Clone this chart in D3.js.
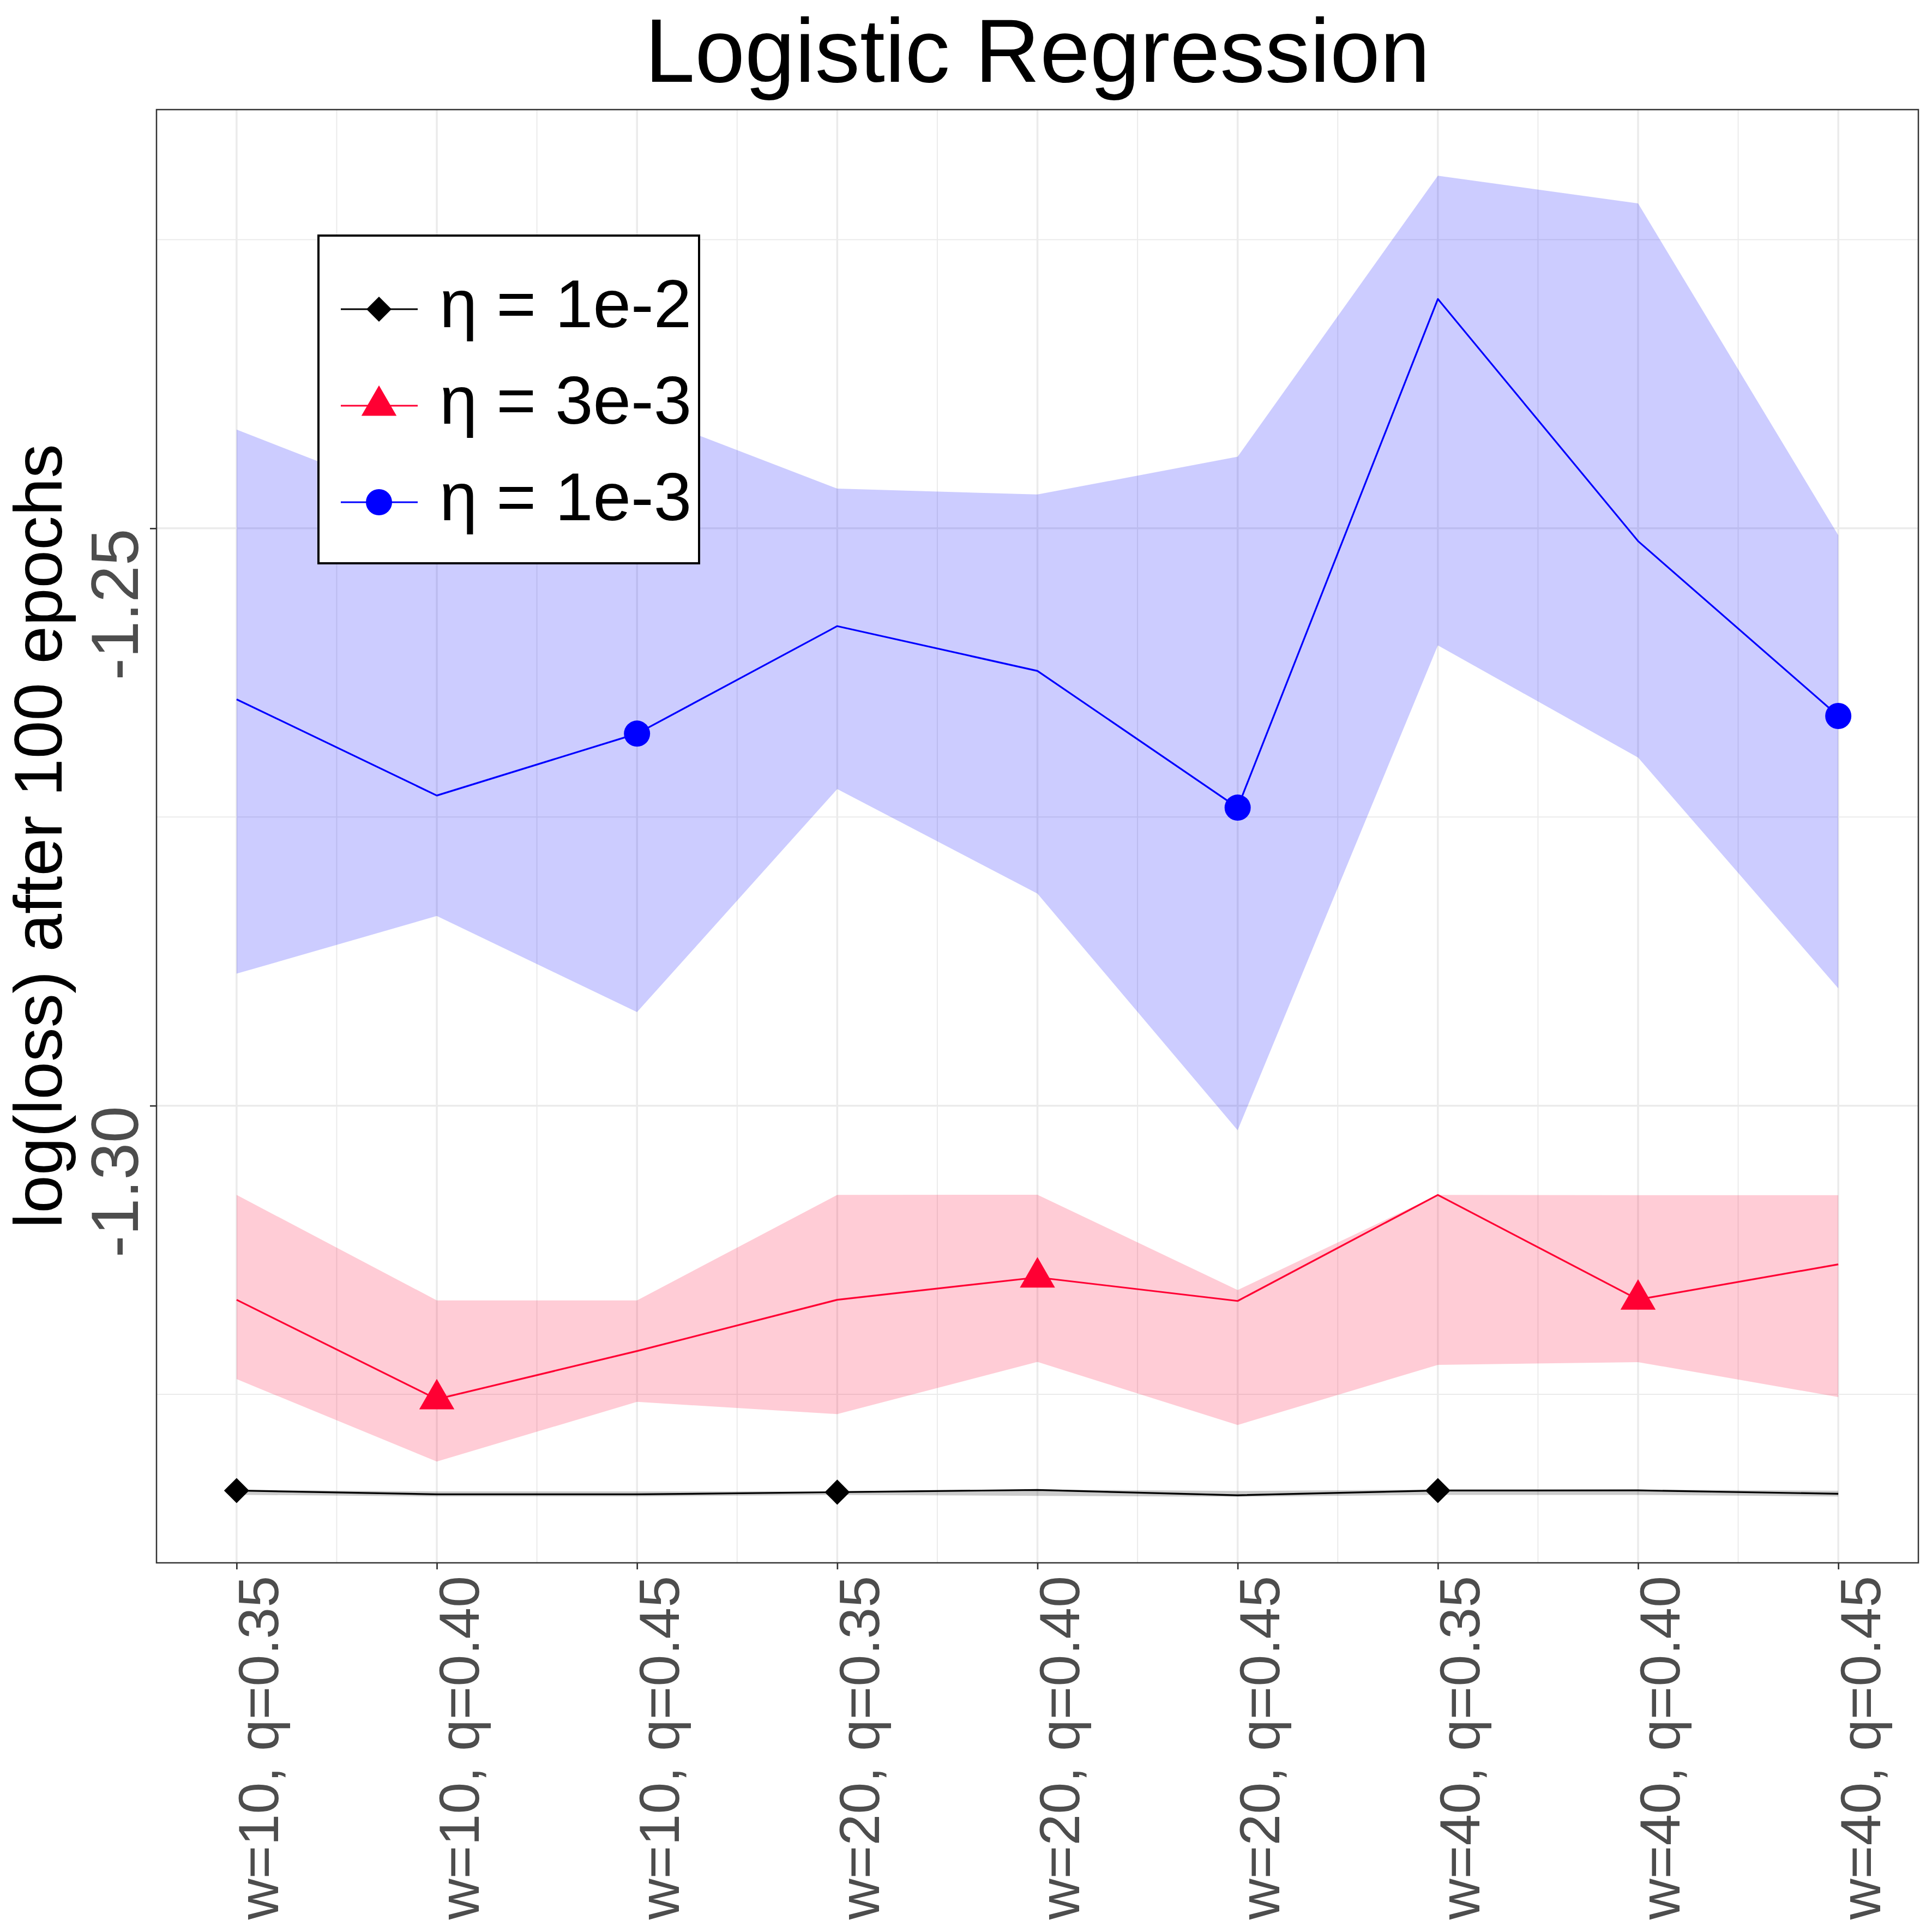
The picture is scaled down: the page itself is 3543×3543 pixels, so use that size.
<!DOCTYPE html>
<html>
<head>
<meta charset="utf-8">
<script src="https://cdn.jsdelivr.net/npm/d3@7"></script>
<style>
  body { margin: 0; background: #fff; }
  text { font-family: "Liberation Sans", Arial, sans-serif; }
</style>
</head>
<body>
<script>
var width = 3543
var height = 3543

// x categories (one per tick)
var categories = [
  "w=10, q=0.35", "w=10, q=0.40", "w=10, q=0.45",
  "w=20, q=0.35", "w=20, q=0.40", "w=20, q=0.45",
  "w=40, q=0.35", "w=40, q=0.40", "w=40, q=0.45"
]
var yTicks = [-1.30, -1.25]
var yTickLabels = ["-1.30", "-1.25"]
var yMinor = [-1.325, -1.275, -1.225]
var legendLabels = ["\u03b7 = 1e-2", "\u03b7 = 3e-3", "\u03b7 = 1e-3"]

// eta = 1e-2
var mean1e2 = [-1.33333, -1.33366, -1.33366, -1.33347, -1.33328, -1.33374, -1.33333, -1.33332, -1.33361]
var hi1e2   = [-1.33327, -1.33340, -1.33340, -1.33340, -1.33324, -1.33337, -1.33324, -1.33324, -1.33335]
var lo1e2   = [-1.33370, -1.33384, -1.33384, -1.33371, -1.33379, -1.33387, -1.33371, -1.33371, -1.33384]
// eta = 3e-3
var mean3e3 = [-1.31681, -1.32542, -1.32125, -1.31681, -1.31487, -1.31691, -1.30773, -1.31679, -1.31374]
var hi3e3   = [-1.30773, -1.31686, -1.31686, -1.30773, -1.30771, -1.31597, -1.30773, -1.30775, -1.30775]
var lo3e3   = [-1.32368, -1.33082, -1.32565, -1.32671, -1.32219, -1.32765, -1.32245, -1.32221, -1.32523]
// eta = 1e-3
var mean1e3 = [-1.26481, -1.27314, -1.26778, -1.25847, -1.26235, -1.27419, -1.23014, -1.25111, -1.26625]
var hi1e3   = [-1.24145, -1.24820, -1.23990, -1.24656, -1.24707, -1.24380, -1.21946, -1.22186, -1.25060]
var lo1e3   = [-1.28857, -1.28357, -1.29190, -1.27258, -1.28163, -1.30213, -1.26014, -1.26985, -1.28984]

// markers only drawn every third point
var marks1e2 = [0, 3, 6]
var marks3e3 = [1, 4, 7]
var marks1e3 = [2, 5, 8]

var series = [
  { mean: mean1e2, lo: lo1e2, hi: hi1e2, color: "#000000", shape: "diamond", marks: marks1e2 },
  { mean: mean3e3, lo: lo3e3, hi: hi3e3, color: "#FF0033", shape: "triangle", marks: marks3e3 },
  { mean: mean1e3, lo: lo1e3, hi: hi1e3, color: "#0000FF", shape: "circle", marks: marks1e3 }
]

var panel = { left: 287, right: 3518, top: 201, bottom: 2866 }

var x = d3.scaleLinear().domain([0.6, 9.4]).range([panel.left, panel.right])
var allVals = [].concat(hi1e2, lo1e2, hi3e3, lo3e3, hi1e3, lo1e3)
var ext = d3.extent(allVals)
var pad = (ext[1] - ext[0]) * 0.05
var y = d3.scaleLinear().domain([ext[0] - pad, ext[1] + pad]).range([panel.bottom, panel.top])

var svg = d3.select("body").append("svg")
  .attr("width", width)
  .attr("height", height)
  .attr("xmlns", "http://www.w3.org/2000/svg")

svg.append("rect").attr("width", width).attr("height", height).attr("fill", "#fff")

// grid
var grid = svg.append("g")
var xMajor = d3.range(1, categories.length + 1)
var xMinor = d3.range(1.5, categories.length, 1)
grid.selectAll(".xmin").data(xMinor).enter().append("line")
  .attr("x1", x).attr("x2", x).attr("y1", panel.top).attr("y2", panel.bottom)
  .attr("stroke", "#EBEBEB").attr("stroke-width", 2)
grid.selectAll(".ymin").data(yMinor).enter().append("line")
  .attr("x1", panel.left).attr("x2", panel.right).attr("y1", y).attr("y2", y)
  .attr("stroke", "#EBEBEB").attr("stroke-width", 2)
grid.selectAll(".xmaj").data(xMajor).enter().append("line")
  .attr("x1", x).attr("x2", x).attr("y1", panel.top).attr("y2", panel.bottom)
  .attr("stroke", "#EBEBEB").attr("stroke-width", 3.5)
grid.selectAll(".ymaj").data(yTicks).enter().append("line")
  .attr("x1", panel.left).attr("x2", panel.right).attr("y1", y).attr("y2", y)
  .attr("stroke", "#EBEBEB").attr("stroke-width", 3.5)

// ribbons
var area = d3.area()
  .x(function(d, i) { return x(i + 1) })
  .y0(function(d) { return y(d[0]) })
  .y1(function(d) { return y(d[1]) })
var line = d3.line()
  .x(function(d, i) { return x(i + 1) })
  .y(function(d) { return y(d) })

series.forEach(function(s) {
  var band = s.lo.map(function(v, i) { return [v, s.hi[i]] })
  svg.append("path")
    .attr("d", area(band))
    .attr("fill", s.color)
    .attr("fill-opacity", 0.2)
})
series.forEach(function(s) {
  svg.append("path")
    .attr("d", line(s.mean))
    .attr("fill", "none")
    .attr("stroke", s.color)
    .attr("stroke-width", 3.2)
    .attr("stroke-linejoin", "round")
})

function symbolPath(shape) {
  if (shape === "circle") return d3.symbol().type(d3.symbolCircle).size(Math.PI * 24 * 24)()
  if (shape === "triangle") return d3.symbol().type(d3.symbolTriangle).size(1800)()
  return d3.symbol().type(d3.symbolSquare).size(1060)()
}
function symbolRotate(shape) { return shape === "diamond" ? " rotate(45)" : "" }

series.forEach(function(s) {
  svg.selectAll(null).data(s.marks).enter().append("path")
    .attr("d", symbolPath(s.shape))
    .attr("transform", function(i) {
      return "translate(" + x(i + 1) + "," + y(s.mean[i]) + ")" + symbolRotate(s.shape)
    })
    .attr("fill", s.color)
})

// panel border
svg.append("rect")
  .attr("x", panel.left).attr("y", panel.top)
  .attr("width", panel.right - panel.left).attr("height", panel.bottom - panel.top)
  .attr("fill", "none").attr("stroke", "#333333").attr("stroke-width", 2.5)

// axes
var xAxis = svg.append("g")
  .attr("transform", "translate(0," + panel.bottom + ")")
  .call(d3.axisBottom(x).tickValues(xMajor).tickSize(12)
    .tickFormat(function(d) { return categories[d - 1] }))
xAxis.select(".domain").remove()
xAxis.selectAll(".tick line").attr("stroke", "#333333").attr("stroke-width", 2.7)
xAxis.selectAll(".tick text")
  .attr("x", 0).attr("y", 0).attr("dy", null)
  .attr("transform", "translate(76,24) rotate(-90)")
  .attr("text-anchor", "end")
  .attr("fill", "#4D4D4D")
  .style("font-size", "104px")

var yAxis = svg.append("g")
  .attr("transform", "translate(" + panel.left + ",0)")
  .call(d3.axisLeft(y).tickValues(yTicks).tickSize(12)
    .tickFormat(function(d, i) { return yTickLabels[i] }))
yAxis.select(".domain").remove()
yAxis.selectAll(".tick line").attr("stroke", "#333333").attr("stroke-width", 2.7)
yAxis.selectAll(".tick text")
  .attr("x", 0).attr("y", 0).attr("dy", null)
  .attr("transform", "translate(-34,0) rotate(-90)")
  .attr("text-anchor", "end")
  .attr("fill", "#4D4D4D")
  .style("font-size", "122px")

// titles
svg.append("text")
  .attr("x", (panel.left + panel.right) / 2).attr("y", 150)
  .attr("text-anchor", "middle")
  .style("font-size", "165px")
  .text("Logistic Regression")

svg.append("text")
  .attr("transform", "translate(113," + (panel.top + panel.bottom) / 2 + ") rotate(-90)")
  .attr("text-anchor", "middle")
  .style("font-size", "125px")
  .text("log(loss) after 100 epochs")

// legend
var legend = svg.append("g")
legend.append("rect")
  .attr("x", 584).attr("y", 432).attr("width", 698).attr("height", 601)
  .attr("fill", "#fff").attr("stroke", "#000").attr("stroke-width", 4)
var rowY = [567, 744, 921]
series.forEach(function(s, i) {
  var g = legend.append("g").attr("transform", "translate(0," + rowY[i] + ")")
  g.append("line").attr("x1", 625).attr("x2", 766).attr("y1", 0).attr("y2", 0)
    .attr("stroke", s.color).attr("stroke-width", 3.2)
  g.append("path")
    .attr("d", symbolPath(s.shape))
    .attr("transform", "translate(695,0)" + symbolRotate(s.shape))
    .attr("fill", s.color)
  g.append("text").attr("x", 806).attr("y", 33)
    .style("font-size", "125px")
    .text(legendLabels[i])
})
</script>
</body>
</html>
